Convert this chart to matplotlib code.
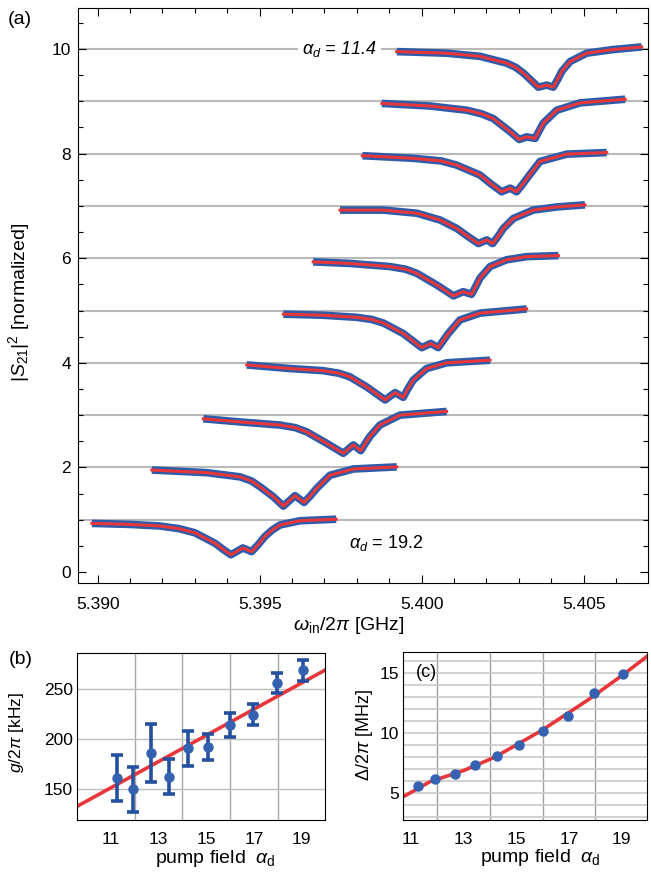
import matplotlib
matplotlib.use('Agg')
import matplotlib.pyplot as plt
from matplotlib.ticker import MultipleLocator, FormatStrFormatter

plt.rcParams['font.family'] = ['Liberation Sans', 'DejaVu Sans']
plt.rcParams['mathtext.fontset'] = 'custom'
plt.rcParams['mathtext.rm'] = 'Liberation Sans'
plt.rcParams['mathtext.it'] = 'Liberation Sans:italic'
plt.rcParams['mathtext.bf'] = 'Liberation Sans:bold'

BLUE = '#2d5cab'
RED = '#e8373a'
GRAY = '#b9b9b9'

# ---- panel (a): transmission traces, offset by 1 each (bottom = alpha 19.2)
trace_freq = [
    [5.38982, 5.39100, 5.39192, 5.39250, 5.39300, 5.39362, 5.39390, 5.39411, 5.39448, 5.39475, 5.39495, 5.39516, 5.39538, 5.39563, 5.39624, 5.39736],
    [5.39167, 5.39336, 5.39439, 5.39475, 5.39501, 5.39542, 5.39573, 5.39609, 5.39637, 5.39657, 5.39676, 5.39717, 5.39789, 5.39923],
    [5.39326, 5.39439, 5.39563, 5.39610, 5.39645, 5.39707, 5.39758, 5.39789, 5.39812, 5.39826, 5.39840, 5.39871, 5.39933, 5.40077],
    [5.39460, 5.39594, 5.39696, 5.39745, 5.39779, 5.39830, 5.39887, 5.39918, 5.39943, 5.39958, 5.39974, 5.40015, 5.40077, 5.40211],
    [5.39573, 5.39696, 5.39799, 5.39845, 5.39882, 5.39943, 5.40000, 5.40028, 5.40051, 5.40066, 5.40082, 5.40118, 5.40180, 5.40324],
    [5.39665, 5.39779, 5.39902, 5.39950, 5.39985, 5.40046, 5.40098, 5.40128, 5.40154, 5.40167, 5.40180, 5.40211, 5.40262, 5.40324, 5.40422],
    [5.39748, 5.39882, 5.39985, 5.40057, 5.40108, 5.40144, 5.40175, 5.40201, 5.40219, 5.40236, 5.40252, 5.40283, 5.40344, 5.40417, 5.40504],
    [5.39817, 5.39974, 5.40060, 5.40108, 5.40180, 5.40214, 5.40247, 5.40273, 5.40293, 5.40311, 5.40329, 5.40365, 5.40448, 5.40571],
    [5.39877, 5.40026, 5.40139, 5.40185, 5.40221, 5.40273, 5.40301, 5.40324, 5.40350, 5.40362, 5.40375, 5.40417, 5.40489, 5.40628],
    [5.39923, 5.40077, 5.40180, 5.40262, 5.40290, 5.40314, 5.40360, 5.40386, 5.40406, 5.40420, 5.40432, 5.40458, 5.40509, 5.40591, 5.40679],
]
trace_val = [
    [0.93, 0.91, 0.88, 0.83, 0.75, 0.55, 0.42, 0.33, 0.46, 0.39, 0.52, 0.68, 0.80, 0.90, 0.98, 1.01],
    [1.95, 1.90, 1.82, 1.74, 1.63, 1.44, 1.26, 1.46, 1.33, 1.46, 1.60, 1.85, 1.97, 2.01],
    [2.93, 2.87, 2.81, 2.76, 2.68, 2.46, 2.27, 2.43, 2.32, 2.46, 2.59, 2.81, 3.00, 3.07],
    [3.96, 3.89, 3.85, 3.80, 3.73, 3.54, 3.29, 3.43, 3.34, 3.51, 3.67, 3.89, 4.00, 4.05],
    [4.93, 4.91, 4.87, 4.83, 4.76, 4.56, 4.29, 4.37, 4.29, 4.42, 4.56, 4.82, 4.95, 5.03],
    [5.93, 5.90, 5.84, 5.79, 5.71, 5.49, 5.28, 5.36, 5.31, 5.46, 5.62, 5.84, 5.97, 6.03, 6.05],
    [6.92, 6.92, 6.86, 6.73, 6.57, 6.41, 6.28, 6.35, 6.28, 6.42, 6.57, 6.76, 6.92, 6.98, 7.02],
    [7.96, 7.91, 7.86, 7.78, 7.59, 7.42, 7.27, 7.34, 7.27, 7.41, 7.56, 7.85, 7.99, 8.02],
    [8.96, 8.91, 8.83, 8.76, 8.67, 8.42, 8.27, 8.32, 8.29, 8.43, 8.58, 8.83, 8.97, 9.04],
    [9.95, 9.92, 9.86, 9.73, 9.65, 9.54, 9.27, 9.31, 9.27, 9.42, 9.57, 9.76, 9.92, 9.99, 10.04],
]
levels = [1, 2, 3, 4, 5, 6, 7, 8, 9, 10]

# ---- panels (b), (c)
alpha_d = [11.27, 11.93, 12.68, 13.43, 14.25, 15.09, 16.01, 16.98, 17.95, 19.04]
g_khz = [161, 150, 186.6, 162.6, 191, 192, 214.3, 224.3, 256, 268.6]
g_err = [23, 22.5, 29, 17.3, 17.5, 13, 12.3, 10.3, 9.7, 10.2]
g_fit_x = [9.59, 19.98]
g_fit_y = [132.9, 268.9]

delta_mhz = [5.61, 6.17, 6.61, 7.36, 8.11, 9.05, 10.22, 11.47, 13.33, 14.94]
delta_fit_x = [10.71, 11.72, 13.0, 14.17, 15.95, 17.72, 18.99, 19.95]
delta_fit_y = [4.72, 5.97, 6.90, 8.0, 10.22, 12.78, 14.78, 16.39]

W, H = 651, 874
fig = plt.figure(figsize=(W / 100, H / 100), dpi=100)

ax = fig.add_axes([78 / W, 1 - 583 / H, 570 / W, 575 / H])
for lvl in levels:
    ax.axhline(lvl, color=GRAY, lw=1.5, zorder=1)
for f, v in zip(trace_freq, trace_val):
    ax.plot(f, v, color=BLUE, lw=5.5, solid_joinstyle='round', solid_capstyle='butt', zorder=2)
    ax.plot(f, v, color=RED, lw=2.2, solid_joinstyle='round', zorder=3)
ax.set_xlim(5.389392, 5.406985)
ax.set_ylim(-0.21, 10.784)
ax.xaxis.set_major_locator(MultipleLocator(0.005))
ax.xaxis.set_minor_locator(MultipleLocator(0.001))
ax.xaxis.set_major_formatter(FormatStrFormatter('%.3f'))
ax.yaxis.set_major_locator(MultipleLocator(2))
ax.yaxis.set_minor_locator(MultipleLocator(0.5))
ax.tick_params(which='both', direction='in', top=True, right=True, width=0.8)
ax.tick_params(which='major', length=6, labelsize=12.5)
ax.tick_params(which='minor', length=3.8)
ax.tick_params(axis='x', pad=10)
ax.tick_params(axis='y', pad=5)
for s in ax.spines.values():
    s.set_linewidth(0.8)
ax.set_xlabel(r'$\omega_{\mathrm{in}}/2\pi$ [GHz]', fontsize=14)
ax.xaxis.set_label_coords(0.475, -0.056)
ax.set_ylabel(r'$|S_{\mathit{21}}|^2$ [normalized]', fontsize=14)
ax.yaxis.set_label_coords(-0.081, 0.488)
ax.text(5.39745, 10.0, r'$\alpha_d$ = 11.4', style='italic', fontsize=13, ha='center', va='center',
        bbox=dict(facecolor='white', edgecolor='none', pad=3), zorder=4)
ax.text(5.39890, 0.55, r'$\alpha_d$ = 19.2', fontsize=13, ha='center', va='center', zorder=4)
fig.text(8 / W, 1 - 11 / H, '(a)', fontsize=14, va='top', ha='left')

# (b)
axb = fig.add_axes([77 / W, 1 - 820 / H, 248 / W, 167 / H])
for x in [12, 14, 16, 18]:
    axb.axvline(x, color='#a8a8a8', lw=1.0, zorder=0)
for y in [150, 200, 250]:
    axb.axhline(y, color='#bdbdbd', lw=1.0, zorder=0)
axb.plot(g_fit_x, g_fit_y, color=RED, lw=2.6, zorder=2)
axb.errorbar(alpha_d, g_khz, yerr=g_err, fmt='o', ms=6.5, color='#3562b0', ecolor='#2550a0',
             elinewidth=2.6, capsize=4, capthick=2.6, zorder=3)
axb.set_xlim(9.59, 19.98)
axb.set_ylim(119.3, 286)
axb.set_xticks([11, 13, 15, 17, 19])
axb.set_yticks([150, 200, 250])
axb.tick_params(length=0, labelsize=12.5)
axb.tick_params(axis='x', pad=9)
axb.tick_params(axis='y', pad=3)
for s in axb.spines.values():
    s.set_linewidth(0.8)
axb.set_xlabel(r'pump field  $\alpha_{\mathrm{d}}$', fontsize=14)
axb.xaxis.set_label_coords(0.556, -0.165)
axb.set_ylabel(r'$g/2\pi$ [kHz]', fontsize=12.5)
axb.yaxis.set_label_coords(-0.205, 0.523)
fig.text(9 / W, 1 - 651 / H, '(b)', fontsize=14, va='top', ha='left')

# (c)
axc = fig.add_axes([403.3 / W, 1 - 820 / H, 243.4 / W, 167.7 / H])
for x in [12, 14, 16, 18]:
    axc.axvline(x, color='#a0a0a0', lw=1.0, zorder=0)
for y in range(3, 17):
    axc.axhline(y, color='#cacaca', lw=1.2, zorder=0)
axc.plot(delta_fit_x, delta_fit_y, color=RED, lw=2.6, solid_joinstyle='round', zorder=2)
axc.plot(alpha_d, delta_mhz, 'o', ms=6.5, color='#3562b0', zorder=3)
axc.set_xlim(10.71, 19.95)
axc.set_ylim(2.78, 16.75)
axc.set_xticks([11, 13, 15, 17, 19])
axc.set_yticks([5, 10, 15])
axc.tick_params(length=0, labelsize=12.5)
axc.tick_params(axis='x', pad=9)
axc.tick_params(axis='y', pad=3)
for s in axc.spines.values():
    s.set_linewidth(0.8)
axc.set_xlabel(r'pump field  $\alpha_{\mathrm{d}}$', fontsize=14)
axc.xaxis.set_label_coords(0.565, -0.16)
axc.set_ylabel(r'$\Delta/2\pi$ [MHz]', fontsize=13)
axc.yaxis.set_label_coords(-0.116, 0.507)
axc.text(0.05, 0.93, '(c)', transform=axc.transAxes, fontsize=13, va='top', ha='left')

fig.savefig('out.png', dpi=100)
